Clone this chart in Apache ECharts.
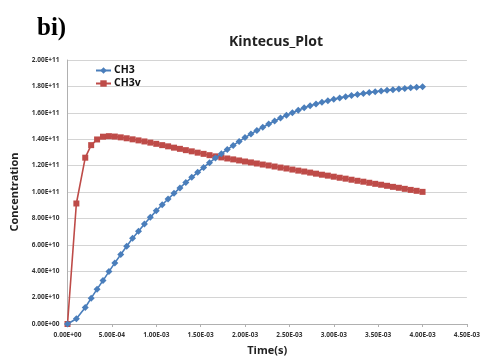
<!DOCTYPE html>
<html>
<head>
<meta charset="utf-8">
<script src="https://cdn.jsdelivr.net/npm/echarts@6/dist/echarts.min.js"></script>
<style>html,body{margin:0;padding:0;background:#fff}#c{width:483px;height:361px}</style>
</head>
<body>
<div id="c"></div>
<script>
// Time (s)
var times = [0, 0.0001, 0.0002, 0.0002667, 0.0003333, 0.0004, 0.0004667, 0.0005333, 0.0006, 0.0006667,
  0.0007333, 0.0008, 0.0008667, 0.0009333, 0.001, 0.0010667, 0.0011333, 0.0012, 0.0012667, 0.0013333,
  0.0014, 0.0014667, 0.0015333, 0.0016, 0.0016667, 0.0017333, 0.0018, 0.0018667, 0.0019333, 0.002,
  0.0020667, 0.0021333, 0.0022, 0.0022667, 0.0023333, 0.0024, 0.0024667, 0.0025333, 0.0026, 0.0026667,
  0.0027333, 0.0028, 0.0028667, 0.0029333, 0.003, 0.0030667, 0.0031333, 0.0032, 0.0032667, 0.0033333,
  0.0034, 0.0034667, 0.0035333, 0.0036, 0.0036667, 0.0037333, 0.0038, 0.0038667, 0.0039333, 0.004];
// CH3 concentration
var ch3 = [0, 0.40e10, 1.25e10, 1.96e10, 2.64e10, 3.29e10, 3.97e10, 4.63e10, 5.26e10, 5.89e10,
  6.49e10, 7.02e10, 7.57e10, 8.08e10, 8.58e10, 9.03e10, 9.47e10, 9.90e10, 10.31e10, 10.72e10,
  11.11e10, 11.49e10, 11.86e10, 12.22e10, 12.57e10, 12.90e10, 13.22e10, 13.53e10, 13.83e10, 14.12e10,
  14.40e10, 14.66e10, 14.91e10, 15.15e10, 15.38e10, 15.60e10, 15.81e10, 16.01e10, 16.20e10, 16.38e10,
  16.53e10, 16.67e10, 16.80e10, 16.92e10, 17.03e10, 17.13e10, 17.22e10, 17.31e10, 17.39e10, 17.46e10,
  17.53e10, 17.59e10, 17.65e10, 17.70e10, 17.75e10, 17.80e10, 17.85e10, 17.89e10, 17.93e10, 17.97e10];
// CH3v concentration
var ch3v = [0, 9.13e10, 12.60e10, 13.55e10, 13.98e10, 14.19e10, 14.23e10, 14.20e10, 14.14e10, 14.07e10,
  13.99e10, 13.91e10, 13.83e10, 13.74e10, 13.65e10, 13.55e10, 13.46e10, 13.36e10, 13.27e10, 13.17e10,
  13.08e10, 12.98e10, 12.89e10, 12.79e10, 12.70e10, 12.62e10, 12.54e10, 12.47e10, 12.39e10, 12.31e10,
  12.24e10, 12.16e10, 12.08e10, 12.01e10, 11.93e10, 11.85e10, 11.78e10, 11.70e10, 11.62e10, 11.55e10,
  11.47e10, 11.39e10, 11.31e10, 11.24e10, 11.16e10, 11.08e10, 11.01e10, 10.93e10, 10.85e10, 10.78e10,
  10.70e10, 10.62e10, 10.55e10, 10.47e10, 10.39e10, 10.32e10, 10.24e10, 10.16e10, 10.09e10, 10.01e10];

var seriesNames = ['CH3', 'CH3v'];

function sci(v) {
  if (v === 0) return '0.00E+00';
  var e = Math.floor(Math.log10(Math.abs(v)));
  var m = v / Math.pow(10, e);
  if (Math.abs(m) >= 9.995) { m /= 10; e += 1; }
  if (Math.abs(m) < 1) { m *= 10; e -= 1; }
  var s = e < 0 ? '-' : '+';
  var ae = Math.abs(e);
  return m.toFixed(2) + 'E' + s + (ae < 10 ? '0' + ae : '' + ae);
}

function pairs(xs, ys) { return xs.map(function (x, i) { return [x, ys[i]]; }); }

var chart = echarts.init(document.getElementById('c'), null, {renderer: 'canvas'});
chart.setOption({
  animation: false,
  backgroundColor: '#ffffff',
  title: [
    {text: 'bi)', left: 32, top: 11, textStyle: {fontFamily: 'Liberation Serif', fontWeight: 'bold', fontSize: 25, color: '#000'}},
    {text: 'Kintecus_Plot', left: 224, top: 30, textStyle: {fontFamily: 'Open Sans', fontWeight: 'bold', fontSize: 14, color: '#222'}}
  ],
  legend: {
    orient: 'vertical', left: 90, top: 60, itemGap: 2, itemWidth: 15, itemHeight: 8,
    textStyle: {fontFamily: 'Open Sans', fontWeight: 'bold', fontSize: 10.5, color: '#111', padding: [0, 0, 0, -2]},
    data: seriesNames
  },
  grid: {left: 67.5, right: 16, top: 60, bottom: 36, containLabel: false},
  xAxis: {
    type: 'value', min: 0, max: 0.0045, interval: 0.0005,
    name: 'Time(s)', nameLocation: 'middle', nameGap: 21,
    nameTextStyle: {fontFamily: 'Open Sans', fontWeight: 'bold', fontSize: 11, color: '#222'},
    axisLine: {show: true, lineStyle: {color: '#b0b0b0', width: 1}},
    axisTick: {show: true, length: 3, lineStyle: {color: '#b0b0b0'}},
    axisLabel: {formatter: sci, fontFamily: 'Open Sans', fontWeight: 'bold', fontSize: 6.5, color: '#333', margin: 8},
    splitLine: {show: false}
  },
  yAxis: {
    type: 'value', min: 0, max: 2e11, interval: 2e10,
    name: 'Concentration', nameLocation: 'middle', nameGap: 44, nameRotate: 90,
    nameTextStyle: {fontFamily: 'Open Sans', fontWeight: 'bold', fontSize: 11, color: '#222'},
    axisLine: {show: true, lineStyle: {color: '#b0b0b0', width: 1}},
    axisTick: {show: false},
    axisLabel: {formatter: sci, fontFamily: 'Open Sans', fontWeight: 'bold', fontSize: 6.5, color: '#333', margin: 8},
    splitLine: {show: true, lineStyle: {color: '#d4d4d4', width: 1}}
  },
  series: [
    {
      name: seriesNames[0], type: 'line', data: pairs(times, ch3),
      symbol: 'diamond', symbolSize: 7, showAllSymbol: true,
      lineStyle: {color: '#4a7ebb', width: 1.6}, itemStyle: {color: '#4a7ebb'}, z: 3
    },
    {
      name: seriesNames[1], type: 'line', data: pairs(times, ch3v),
      symbol: 'rect', symbolSize: 6, showAllSymbol: true,
      lineStyle: {color: '#be4b48', width: 1.6}, itemStyle: {color: '#be4b48'}, z: 2
    }
  ]
});
</script>
</body>
</html>
